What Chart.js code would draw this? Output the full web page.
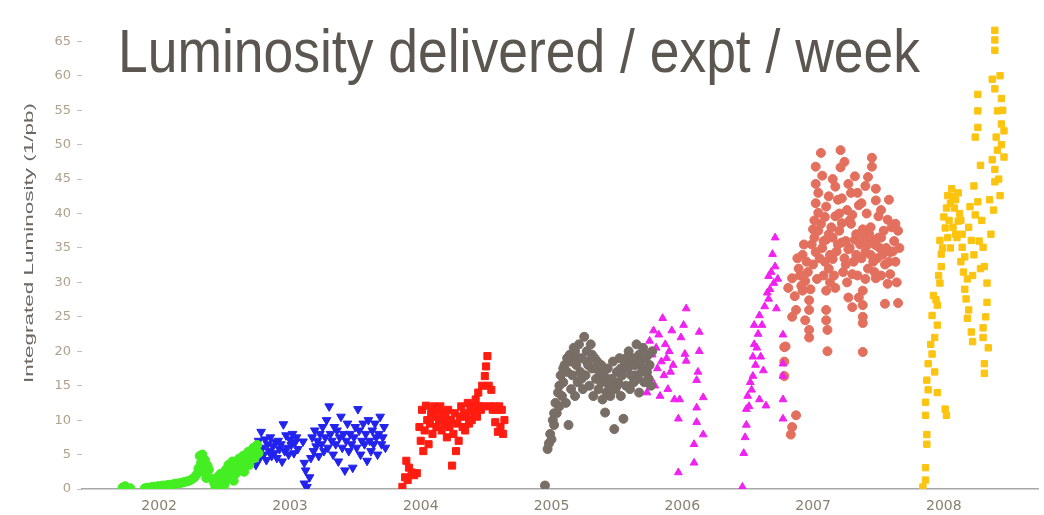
<!DOCTYPE html>
<html><head><meta charset="utf-8">
<script src="https://cdn.jsdelivr.net/npm/chart.js@4"></script>
<style>html,body{margin:0;padding:0;background:#fff;overflow:hidden}#wrap{width:1044px;height:515px}</style>
</head><body><div id="wrap"><canvas id="c" width="1044" height="515"></canvas></div>
<script>
const chartTitle = 'Luminosity delivered / expt / week';
const yAxisTitle = 'Integrated Luminosity (1/pb)';
const yearTicks = [2002, 2003, 2004, 2005, 2006, 2007, 2008];
const lumiTicks = [0, 5, 10, 15, 20, 25, 30, 35, 40, 45, 50, 55, 60, 65];

// [year, integrated luminosity (1/pb)] per week
const run2002 = [[2001.72,0.2],[2001.74,0.4],[2001.78,0.1],[2001.89,0.1],[2001.91,0.2],[2001.93,0.2],[2001.95,0.3],[2001.97,0.3],[2001.99,0.4],[2002.01,0.4],[2002.03,0.5],[2002.05,0.5],[2002.07,0.6],[2002.09,0.6],[2002.11,0.7],[2002.13,0.8],[2002.15,0.8],[2002.17,0.9],[2002.19,1.0],[2002.21,1.1],[2002.23,1.2],[2002.25,1.4],[2002.27,1.7],[2002.29,2.2],[2002.30,3.0],[2002.31,4.8],[2002.32,3.8],[2002.33,5.0],[2002.34,2.6],[2002.35,4.2],[2002.36,1.6],[2002.37,3.4],[2002.38,2.8],[2002.40,1.5],[2002.42,0.9],[2002.43,0.2],[2002.44,0.5],[2002.45,1.8],[2002.46,0.3],[2002.47,2.2],[2002.48,1.0],[2002.50,0.6],[2002.51,2.8],[2002.52,1.4],[2002.53,3.5],[2002.54,2.0],[2002.55,2.6],[2002.56,4.0],[2002.57,1.2],[2002.58,3.0],[2002.59,2.3],[2002.60,3.6],[2002.61,4.4],[2002.62,2.8],[2002.63,3.2],[2002.64,4.8],[2002.65,2.5],[2002.66,3.9],[2002.67,4.6],[2002.68,5.4],[2002.69,3.5],[2002.70,4.2],[2002.71,5.0],[2002.72,6.0],[2002.73,4.5],[2002.74,5.6],[2002.75,6.4],[2002.76,5.2]];

const run2003 = [[2002.74,3.5],[2002.75,5.5],[2002.76,7.0],[2002.77,4.5],[2002.78,8.3],[2002.79,6.0],[2002.80,5.0],[2002.81,7.2],[2002.82,4.2],[2002.83,6.5],[2002.84,5.5],[2002.85,7.5],[2002.86,4.8],[2002.87,6.2],[2002.88,5.2],[2002.89,6.8],[2002.90,4.5],[2002.91,7.0],[2002.92,5.8],[2002.93,6.5],[2002.94,4.0],[2002.95,9.4],[2002.96,5.5],[2002.97,7.8],[2002.98,6.0],[2002.99,5.0],[2003.00,7.2],[2003.01,6.4],[2003.02,8.0],[2003.03,5.2],[2003.04,6.8],[2003.05,7.5],[2003.06,5.8],[2003.10,6.9],[2003.11,3.8],[2003.12,2.7],[2003.11,0.8],[2003.13,0.3],[2003.15,1.7],[2003.16,4.5],[2003.17,7.5],[2003.18,5.5],[2003.19,8.5],[2003.20,6.2],[2003.21,7.0],[2003.22,4.8],[2003.23,8.0],[2003.24,6.5],[2003.25,9.0],[2003.26,5.5],[2003.27,7.5],[2003.28,10.0],[2003.29,6.0],[2003.30,12.0],[2003.31,8.0],[2003.32,7.0],[2003.33,5.0],[2003.34,9.0],[2003.35,6.5],[2003.36,8.5],[2003.37,4.0],[2003.38,7.5],[2003.39,10.5],[2003.40,6.0],[2003.41,8.0],[2003.42,2.7],[2003.43,7.0],[2003.44,9.5],[2003.45,5.5],[2003.46,8.0],[2003.47,6.5],[2003.48,3.1],[2003.49,7.5],[2003.50,9.0],[2003.51,6.0],[2003.52,11.6],[2003.53,8.5],[2003.54,5.0],[2003.55,7.0],[2003.56,9.5],[2003.57,6.5],[2003.58,8.0],[2003.59,4.1],[2003.60,10.0],[2003.61,7.0],[2003.62,5.5],[2003.63,8.5],[2003.64,6.5],[2003.65,9.5],[2003.66,7.5],[2003.67,5.0],[2003.68,8.0],[2003.69,10.5],[2003.70,6.5],[2003.71,7.5],[2003.72,9.0],[2003.73,6.0]];

const run2004 = [[2003.86,0.3],[2003.88,1.7],[2003.89,4.1],[2003.90,1.3],[2003.91,3.1],[2003.93,2.4],[2003.95,2.0],[2003.97,2.3],[2003.99,9.0],[2004.00,7.0],[2004.01,11.5],[2004.02,5.5],[2004.03,8.5],[2004.04,12.1],[2004.05,10.0],[2004.06,6.5],[2004.07,9.5],[2004.08,11.0],[2004.09,8.0],[2004.10,12.0],[2004.11,10.5],[2004.12,9.0],[2004.13,11.5],[2004.14,10.0],[2004.15,12.0],[2004.16,8.5],[2004.17,11.0],[2004.18,9.5],[2004.19,10.5],[2004.20,7.5],[2004.21,11.5],[2004.22,9.0],[2004.23,10.0],[2004.24,3.4],[2004.25,8.0],[2004.26,11.0],[2004.27,5.5],[2004.28,9.5],[2004.29,7.0],[2004.30,10.5],[2004.31,12.0],[2004.32,9.0],[2004.33,11.0],[2004.34,8.5],[2004.35,10.5],[2004.36,12.5],[2004.37,9.5],[2004.38,11.5],[2004.39,10.0],[2004.40,12.0],[2004.41,11.0],[2004.42,13.0],[2004.43,10.5],[2004.44,14.0],[2004.45,12.0],[2004.46,11.5],[2004.47,15.0],[2004.48,12.0],[2004.49,16.4],[2004.50,17.8],[2004.51,19.3],[2004.52,15.0],[2004.53,12.0],[2004.54,14.4],[2004.55,11.5],[2004.56,12.0],[2004.57,9.7],[2004.58,11.5],[2004.59,8.3],[2004.60,12.0],[2004.61,9.0],[2004.62,11.5],[2004.63,8.0],[2004.64,10.0]];

const run2005 = [[2004.95,0.5],[2004.97,5.8],[2004.98,6.6],[2004.99,8.0],[2005.00,7.2],[2005.01,10.0],[2005.02,9.3],[2005.02,11.0],[2005.03,12.5],[2005.04,11.0],[2005.05,14.0],[2005.06,12.0],[2005.06,15.0],[2005.07,16.5],[2005.08,13.5],[2005.09,15.5],[2005.09,17.5],[2005.10,18.0],[2005.11,12.5],[2005.12,17.0],[2005.12,19.0],[2005.13,9.3],[2005.14,19.5],[2005.15,14.5],[2005.15,18.5],[2005.16,16.5],[2005.17,20.5],[2005.18,13.5],[2005.18,20.0],[2005.19,18.0],[2005.20,15.5],[2005.20,19.0],[2005.21,21.0],[2005.22,17.0],[2005.23,19.0],[2005.23,16.0],[2005.24,14.5],[2005.25,22.1],[2005.26,16.5],[2005.27,20.0],[2005.27,18.5],[2005.28,18.0],[2005.29,15.0],[2005.30,21.0],[2005.31,17.5],[2005.31,19.5],[2005.32,13.5],[2005.33,19.0],[2005.34,16.0],[2005.34,17.5],[2005.35,18.5],[2005.36,14.5],[2005.37,17.0],[2005.38,15.5],[2005.38,18.0],[2005.39,13.0],[2005.40,16.5],[2005.41,11.1],[2005.42,14.0],[2005.42,16.0],[2005.43,17.5],[2005.44,15.0],[2005.45,13.5],[2005.46,16.0],[2005.46,14.5],[2005.47,18.5],[2005.48,8.7],[2005.49,14.5],[2005.50,17.0],[2005.50,15.0],[2005.51,15.5],[2005.52,19.0],[2005.53,13.5],[2005.53,17.5],[2005.54,16.5],[2005.55,10.2],[2005.56,18.0],[2005.57,15.0],[2005.57,19.0],[2005.58,17.5],[2005.59,20.0],[2005.60,14.5],[2005.61,16.5],[2005.61,18.0],[2005.62,19.0],[2005.63,15.5],[2005.64,18.0],[2005.64,16.5],[2005.65,21.0],[2005.66,16.0],[2005.67,14.0],[2005.67,19.5],[2005.68,18.5],[2005.69,17.0],[2005.70,20.5],[2005.70,17.5],[2005.71,15.5],[2005.72,19.0],[2005.73,17.0],[2005.74,16.0],[2005.74,19.5],[2005.75,18.0],[2005.76,15.0],[2005.77,20.0]];

const run2006 = [[2005.73,14.0],[2005.74,18.0],[2005.75,21.5],[2005.76,16.0],[2005.77,19.5],[2005.78,23.0],[2005.79,15.0],[2005.80,20.5],[2005.81,17.5],[2005.82,22.4],[2005.83,13.5],[2005.84,18.5],[2005.85,24.8],[2005.86,16.5],[2005.87,21.0],[2005.88,19.0],[2005.89,14.5],[2005.90,20.0],[2005.91,17.0],[2005.92,23.0],[2005.93,18.0],[2005.94,13.0],[2006.03,26.2],[2006.01,23.8],[2005.99,22.0],[2006.02,19.6],[2006.03,18.6],[2005.98,13.0],[2005.97,10.2],[2005.97,2.4],[2006.13,22.8],[2006.13,20.0],[2006.12,17.0],[2006.11,15.8],[2006.16,13.3],[2006.11,11.8],[2006.11,9.7],[2006.16,7.9],[2006.09,6.5],[2006.09,3.8],[2006.46,0.3],[2006.47,5.2],[2006.48,7.5],[2006.49,9.3],[2006.49,11.6],[2006.50,13.5],[2006.51,12.0],[2006.52,15.5],[2006.53,14.4],[2006.54,16.4],[2006.54,19.2],[2006.55,21.0],[2006.55,23.8],[2006.56,18.0],[2006.57,20.5],[2006.58,22.5],[2006.59,13.0],[2006.59,25.2],[2006.60,19.2],[2006.61,23.8],[2006.62,17.2],[2006.63,26.5],[2006.64,12.1],[2006.65,28.5],[2006.66,30.9],[2006.66,27.6],[2006.67,29.0],[2006.68,31.5],[2006.69,34.1],[2006.70,29.9],[2006.71,32.3],[2006.71,36.5],[2006.72,26.2],[2006.73,30.5],[2006.77,22.4],[2006.77,18.2],[2006.77,16.4],[2006.77,13.0],[2006.77,10.2]];

const run2007 = [[2006.78,16.4],[2006.78,18.5],[2006.78,20.6],[2006.83,7.9],[2006.84,9.0],[2006.87,10.7],[2006.79,20.7],[2006.81,29.2],[2006.84,30.6],[2006.84,25.0],[2006.86,28.0],[2006.87,26.0],[2006.88,33.5],[2006.89,32.0],[2006.90,31.0],[2006.91,29.5],[2006.92,34.0],[2006.92,28.8],[2006.93,35.5],[2006.94,30.2],[2006.94,24.5],[2006.95,33.0],[2006.96,31.5],[2006.97,27.4],[2006.97,26.0],[2006.97,23.1],[2006.97,22.0],[2006.98,29.0],[2006.99,35.5],[2007.00,37.7],[2007.00,32.6],[2007.01,36.5],[2007.01,39.0],[2007.02,41.5],[2007.02,34.4],[2007.02,44.3],[2007.02,46.8],[2007.03,30.5],[2007.04,40.1],[2007.04,37.5],[2007.04,43.0],[2007.05,33.5],[2007.06,48.8],[2007.06,38.5],[2007.07,35.0],[2007.07,45.5],[2007.08,31.0],[2007.08,36.0],[2007.09,33.0],[2007.09,39.5],[2007.10,41.0],[2007.10,36.2],[2007.10,28.8],[2007.10,26.0],[2007.10,24.5],[2007.11,23.1],[2007.11,20.0],[2007.12,32.0],[2007.12,37.0],[2007.12,42.5],[2007.13,34.0],[2007.13,30.0],[2007.14,38.0],[2007.15,33.4],[2007.15,36.5],[2007.15,45.0],[2007.16,31.0],[2007.17,43.9],[2007.17,39.6],[2007.17,29.2],[2007.18,34.5],[2007.19,35.5],[2007.19,42.0],[2007.20,37.5],[2007.20,40.0],[2007.21,49.2],[2007.21,46.7],[2007.22,42.2],[2007.22,38.6],[2007.22,35.8],[2007.23,31.5],[2007.24,33.5],[2007.24,47.5],[2007.25,32.6],[2007.25,36.0],[2007.26,40.5],[2007.26,30.0],[2007.27,44.3],[2007.27,34.8],[2007.27,27.8],[2007.28,35.0],[2007.28,39.0],[2007.29,38.5],[2007.29,43.0],[2007.30,39.8],[2007.30,31.2],[2007.30,26.4],[2007.31,33.0],[2007.32,45.4],[2007.32,36.2],[2007.33,34.0],[2007.33,37.0],[2007.34,43.0],[2007.34,31.0],[2007.35,41.2],[2007.35,27.8],[2007.36,35.5],[2007.37,33.5],[2007.37,41.5],[2007.38,37.7],[2007.38,28.8],[2007.38,26.7],[2007.38,25.0],[2007.38,24.1],[2007.38,19.9],[2007.39,36.5],[2007.40,34.4],[2007.40,30.5],[2007.40,44.0],[2007.41,40.0],[2007.42,45.3],[2007.42,32.0],[2007.42,35.5],[2007.43,37.0],[2007.44,34.0],[2007.44,38.0],[2007.45,48.1],[2007.45,46.8],[2007.46,33.0],[2007.46,36.0],[2007.47,31.5],[2007.48,43.6],[2007.48,41.9],[2007.48,35.4],[2007.48,30.6],[2007.49,33.5],[2007.50,39.6],[2007.50,36.5],[2007.51,35.0],[2007.52,36.5],[2007.52,31.0],[2007.52,40.5],[2007.53,34.0],[2007.54,37.5],[2007.55,32.6],[2007.55,26.9],[2007.56,35.0],[2007.57,39.1],[2007.57,29.8],[2007.58,33.0],[2007.58,42.0],[2007.59,34.4],[2007.59,31.2],[2007.60,38.0],[2007.61,34.5],[2007.62,36.0],[2007.63,33.0],[2007.63,38.5],[2007.64,30.0],[2007.65,27.0],[2007.65,37.5],[2007.66,35.0]];

const run2008 = [[2007.84,0.3],[2007.86,1.3],[2007.86,3.1],[2007.87,6.5],[2007.87,7.9],[2007.86,10.7],[2007.86,12.6],[2007.88,14.4],[2007.87,15.8],[2007.88,18.2],[2007.90,21.0],[2007.93,17.0],[2007.95,14.0],[2008.01,11.6],[2008.02,10.7],[2007.91,19.6],[2007.93,22.0],[2007.95,23.8],[2007.91,25.2],[2007.95,26.7],[2007.94,27.5],[2007.92,28.1],[2007.97,29.9],[2007.96,31.0],[2007.98,32.3],[2007.98,34.1],[2007.99,35.0],[2007.97,36.1],[2008.01,37.9],[2008.00,39.5],[2008.02,40.8],[2008.03,42.6],[2008.03,36.5],[2008.04,39.0],[2008.05,41.5],[2008.05,35.0],[2008.06,43.6],[2008.07,38.0],[2008.07,42.5],[2008.08,40.8],[2008.09,42.0],[2008.09,37.0],[2008.10,36.5],[2008.11,38.9],[2008.11,43.0],[2008.12,40.0],[2008.13,33.0],[2008.13,39.0],[2008.14,37.0],[2008.14,35.1],[2008.15,31.5],[2008.16,33.7],[2008.16,29.0],[2008.19,38.0],[2008.19,26.0],[2008.20,41.0],[2008.21,36.1],[2008.22,31.0],[2008.23,34.0],[2008.23,44.0],[2008.24,39.8],[2008.26,41.7],[2008.18,30.5],[2008.17,27.6],[2008.18,24.8],[2008.21,22.8],[2008.22,21.4],[2008.27,36.0],[2008.28,32.0],[2008.28,47.0],[2008.29,39.0],[2008.30,35.1],[2008.31,32.3],[2008.33,29.9],[2008.33,27.1],[2008.32,25.0],[2008.30,23.4],[2008.30,22.0],[2008.34,20.5],[2008.31,18.2],[2008.31,16.8],[2008.35,42.0],[2008.36,37.0],[2008.38,40.5],[2008.39,46.4],[2008.39,44.6],[2008.43,42.6],[2008.42,45.0],[2008.37,47.8],[2008.41,49.2],[2008.44,50.0],[2008.26,57.3],[2008.26,54.9],[2008.26,52.5],[2008.24,51.1],[2008.37,59.5],[2008.39,58.1],[2008.43,60.0],[2008.44,56.7],[2008.45,55.0],[2008.41,54.9],[2008.44,53.0],[2008.40,51.1],[2008.39,66.6],[2008.39,65.2],[2008.39,63.7],[2008.46,52.0],[2008.46,48.2]];

const toPoints = arr => arr.map(p => ({x: p[0], y: p[1]}));

function series(label, arr, color, style, radius, rotation) {
  return {
    label, data: toPoints(arr),
    pointStyle: style, pointRadius: radius, pointHoverRadius: radius,
    pointRotation: rotation || 0,
    pointBackgroundColor: color, pointBorderColor: color, pointBorderWidth: 1,
    showLine: false
  };
}

const overlayText = {
  id: 'overlayText',
  beforeDatasetsDraw(chart) {
    chart.ctx.save();
    chart.ctx.filter = 'blur(0.6px)';
  },
  afterDatasetsDraw(chart) {
    const ctx = chart.ctx;
    ctx.restore();
    ctx.save();
    ctx.fillStyle = '#5c5650';
    ctx.font = '400 53px "Liberation Sans", Arial, sans-serif';
    ctx.textBaseline = 'alphabetic';
    const w = ctx.measureText(chartTitle).width;
    ctx.translate(118, 72);
    ctx.scale(802 / w, 1.16);
    ctx.fillText(chartTitle, 0, 0);
    ctx.restore();

    ctx.save();
    ctx.fillStyle = '#6e6660';
    ctx.font = '13px "Liberation Sans", Arial, sans-serif';
    const w2 = ctx.measureText(yAxisTitle).width;
    ctx.translate(29, 243);
    ctx.rotate(-Math.PI / 2);
    ctx.scale(280 / w2, 1);
    ctx.textAlign = 'center';
    ctx.textBaseline = 'middle';
    ctx.fillText(yAxisTitle, 0, 0);
    ctx.restore();
  }
};

new Chart(document.getElementById('c'), {
  type: 'scatter',
  data: {
    datasets: [
      series('2002', run2002, '#44ee22', 'circle', 4.5),
      series('2003', run2003, '#2323ee', 'triangle', 5, 180),
      series('2004', run2004, '#ff1c10', 'rect', 5),
      series('2005', run2005, '#786e66', 'circle', 4.5),
      series('2006', run2006, '#f022f0', 'triangle', 4.5),
      series('2007', run2007, '#e3705e', 'circle', 4.5),
      series('2008', run2008, '#fcc40f', 'rect', 4.5)
    ]
  },
  options: {
    responsive: false,
    devicePixelRatio: 1,
    animation: false,
    layout: { padding: 0 },
    plugins: { legend: { display: false }, tooltip: { enabled: false }, title: { display: false } },
    scales: {
      x: {
        type: 'linear', min: 2001.41, max: 2008.72,
        afterBuildTicks: s => { s.ticks = yearTicks.map(v => ({ value: v })); },
        afterFit: s => { s.height = 26; },
        ticks: { callback: v => String(v), color: '#8a8070', font: { family: 'DejaVu Sans', size: 14 }, padding: 9, maxRotation: 0, autoSkip: false },
        grid: { display: false, drawTicks: false },
        border: { display: true, color: '#a8a8a8', width: 1.5 }
      },
      y: {
        type: 'linear', min: 0, max: 69,
        afterBuildTicks: s => { s.ticks = lumiTicks.map(v => ({ value: v })); },
        afterFit: s => { s.width = 82; },
        ticks: { color: '#b0a18d', font: { family: 'DejaVu Sans', size: 13 }, padding: 6, autoSkip: false },
        grid: { display: true, drawOnChartArea: false, drawTicks: true, tickLength: 5, color: '#c8c0b8' },
        border: { display: false }
      }
    }
  },
  plugins: [overlayText]
});
</script>
</body></html>
